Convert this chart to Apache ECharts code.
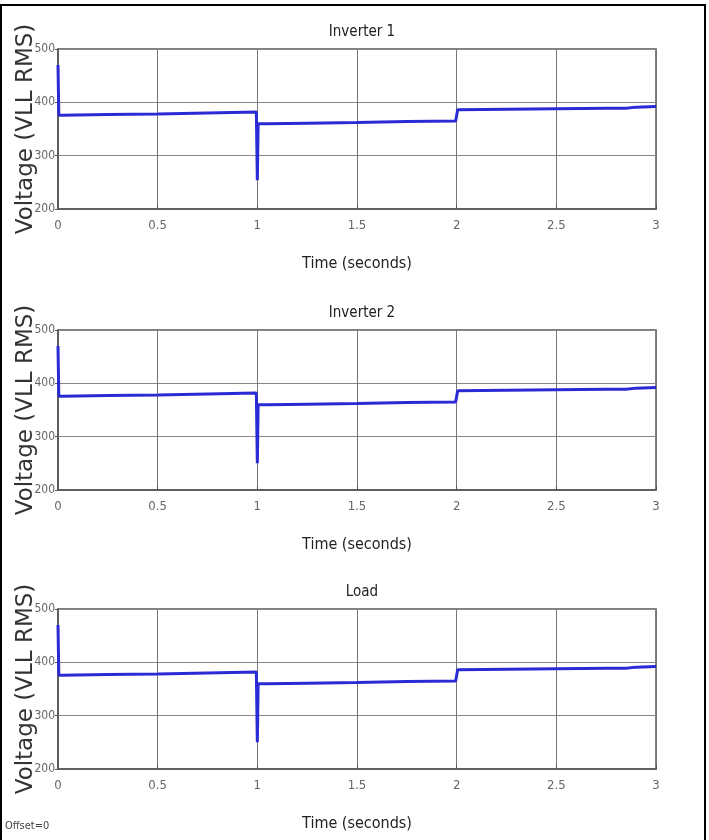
<!DOCTYPE html>
<html><head><meta charset="utf-8">
<script src="https://cdn.jsdelivr.net/npm/echarts@6/dist/echarts.min.js"></script>
<style>html,body{margin:0;padding:0;background:#fff}#c{width:709px;height:840px}</style>
</head><body><div id="c"></div>
<script>
const titles = ['Inverter 1', 'Inverter 2', 'Load'];
const xTicks = [0, 0.5, 1, 1.5, 2, 2.5, 3];
const yTicks = [200, 300, 400, 500];
const time = [0, 0.004, 0.02, 0.25, 0.5, 0.75, 0.995, 1.0, 1.004, 1.05, 1.25, 1.5, 1.75, 1.995, 2.005, 2.25, 2.5, 2.75, 2.85, 2.9, 3.0];
const inverter1 = [470, 376, 376, 377, 378, 380, 382, 254, 360, 360, 361, 362, 364, 365, 386, 387, 388, 389, 389, 391, 392];
const inverter2 = [470, 376, 376, 377, 378, 380, 382, 250, 360, 360, 361, 362, 364, 365, 386, 387, 388, 389, 389, 391, 392];
const load      = [470, 376, 376, 377, 378, 380, 382, 250, 360, 360, 361, 362, 364, 365, 386, 387, 388, 389, 389, 391, 392];
const seriesData = [inverter1, inverter2, load];

const narrow = '"DejaVu Sans Condensed", "Liberation Sans Narrow", "Liberation Sans", Arial, sans-serif';
const tops = [49, 330, 609];
const gridH = 160;
const gL = 58, gR = 656;

const chart = echarts.init(document.getElementById('c'), null, {renderer: 'canvas'});
const grids = [], xAxes = [], yAxes = [], series = [], title = [];
tops.forEach((t, i) => {
  grids.push({left: gL, width: gR - gL, top: t, height: gridH, containLabel: false, outerBoundsMode: 'none',
    show: true, borderColor: '#555', borderWidth: 1.5, backgroundColor: '#fff'});
  title.push({text: titles[i], left: (gL + gR) / 2, top: t - 29, textAlign: 'center',
    textStyle: {fontFamily: narrow, fontSize: 15, fontWeight: 'normal', color: '#222'}});
  xAxes.push({type: 'value', gridIndex: i, min: xTicks[0], max: xTicks[xTicks.length - 1], interval: 0.5,
    name: 'Time (seconds)', nameLocation: 'middle', nameGap: 47, nameMoveOverlap: false,
    nameTextStyle: {fontFamily: narrow, fontSize: 16, color: '#222'},
    axisLine: {show: true, lineStyle: {color: '#555', width: 1.5}},
    axisTick: {show: true, inside: true, length: 4, lineStyle: {color: '#555'}},
    axisLabel: {fontFamily: narrow, fontSize: 13, color: '#666', margin: 10,
      formatter: v => String(v)},
    splitLine: {show: true, lineStyle: {color: '#777', width: 1}}});
  yAxes.push({type: 'value', gridIndex: i, min: yTicks[0], max: yTicks[yTicks.length - 1], interval: 100,
    name: 'Voltage (VLL RMS)', nameLocation: 'middle', nameGap: 20, nameRotate: 90, nameMoveOverlap: false,
    nameTextStyle: {fontFamily: '"DejaVu Sans", Arial, sans-serif', fontSize: 23, color: '#333'},
    axisLine: {show: true, lineStyle: {color: '#555', width: 1.5}},
    axisTick: {show: true, inside: false, length: 3, lineStyle: {color: '#555'}},
    axisLabel: {fontFamily: narrow, fontSize: 12, color: '#666', margin: 3},
    splitLine: {show: true, lineStyle: {color: '#888', width: 1}}});
  series.push({type: 'line', xAxisIndex: i, yAxisIndex: i, showSymbol: false, animation: false,
    lineStyle: {color: '#2b2bd6', width: 3}, data: time.map((x, k) => [x, seriesData[i][k]])});
});

chart.setOption({
  animation: false,
  title: title,
  grid: grids, xAxis: xAxes, yAxis: yAxes, series: series,
  graphic: [
    {type: 'rect', shape: {x: 1, y: 5, width: 704, height: 840}, style: {fill: 'none', stroke: '#000', lineWidth: 2}},
    {type: 'text', left: 5, top: 821, style: {text: 'Offset=0', fontFamily: narrow, fontSize: 11, fill: '#444'}}
  ]
});
</script></body></html>
